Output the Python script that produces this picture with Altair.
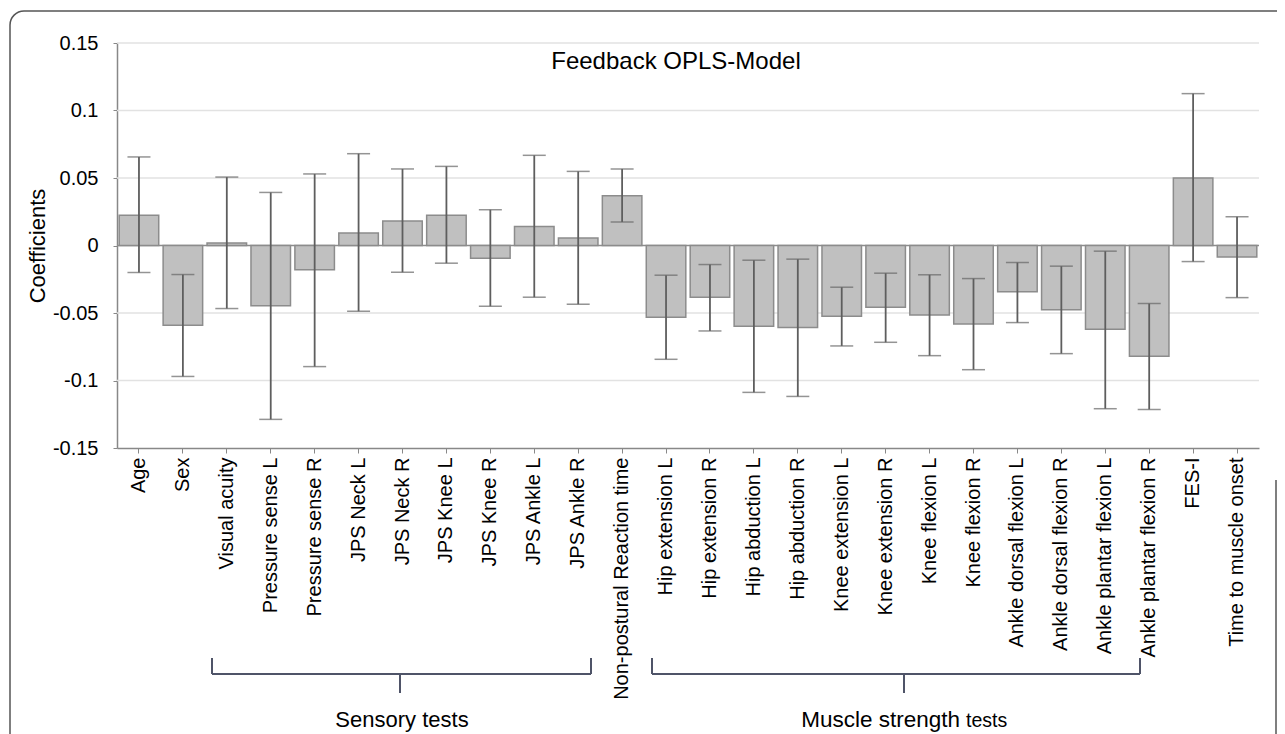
import altair as alt
import pandas as pd

categories = ["Age", "Sex", "Visual acuity", "Pressure sense L", "Pressure sense R",
              "JPS Neck L", "JPS Neck R", "JPS Knee L", "JPS Knee R", "JPS Ankle L",
              "JPS Ankle R", "Non-postural Reaction time", "Hip extension L",
              "Hip extension R", "Hip abduction L", "Hip abduction R", "Knee extension L",
              "Knee extension R", "Knee flexion L", "Knee flexion R",
              "Ankle dorsal flexion L", "Ankle dorsal flexion R", "Ankle plantar flexion L",
              "Ankle plantar flexion R", "FES-I", "Time to muscle onset"]
coef = [0.0225, -0.059, 0.0018, -0.0447, -0.018, 0.0092, 0.0181, 0.0225, -0.0094, 0.0141,
        0.0055, 0.0369, -0.0531, -0.0383, -0.0598, -0.0608, -0.0524, -0.0457, -0.0514,
        -0.0581, -0.0343, -0.0475, -0.062, -0.082, 0.050, -0.0086]
err_low = [-0.020, -0.097, -0.0467, -0.1288, -0.0897, -0.0487, -0.0198, -0.0131, -0.045,
           -0.0383, -0.0435, 0.0174, -0.0843, -0.0633, -0.1088, -0.1118, -0.0744, -0.0717,
           -0.0816, -0.092, -0.0571, -0.0801, -0.1209, -0.1214, -0.0119, -0.0386]
err_high = [0.0656, -0.0215, 0.0507, 0.0393, 0.053, 0.068, 0.0567, 0.0586, 0.0265, 0.0668,
            0.0549, 0.0567, -0.022, -0.0141, -0.0109, -0.0101, -0.0309, -0.0205, -0.0217,
            -0.0245, -0.0126, -0.0153, -0.0042, -0.043, 0.1125, 0.0213]
y_ticks = [0.15, 0.125, 0.1, 0.075, 0.05, 0.025, 0.0, -0.025, -0.05, -0.075, -0.1, -0.125, -0.15]
grid_values = [0.15, 0.1, 0.05, -0.05, -0.1]
chart_title = "Feedback OPLS-Model"
group_sensory = "Sensory tests"
group_muscle_main = "Muscle strength"
group_muscle_tail = "tests"

FONT = "Liberation Sans"
W, H = 1142, 405

df = pd.DataFrame({"cat": categories, "coef": coef, "lo": err_low, "hi": err_high})
grid_df = pd.DataFrame({"g": grid_values})
one = pd.DataFrame({"k": [0]})

x_enc = alt.X("cat:N", sort=categories,
              scale=alt.Scale(domain=categories, paddingInner=0.1, paddingOuter=0.05),
              axis=alt.Axis(title=None, labelAngle=-90, labelFontSize=20, labelColor="black",
                            labelLimit=400, tickSize=5, tickColor="#888888",
                            domainColor="#888888", domainWidth=1.5, labelPadding=4,
                            grid=False))
y_scale = alt.Scale(domain=[-0.15, 0.15], nice=False, zero=False)
y_axis = alt.Axis(values=y_ticks, grid=False, tickSize=4, tickColor="#888888",
                  domainColor="#888888", domainWidth=1.5, labelFontSize=20,
                  labelColor="black", labelPadding=15,
                  labelExpr="round(datum.value*1000) % 50 == 0 ? '' + round(datum.value*100)/100 : ''",
                  title="Coefficients", titleFontSize=22, titleFontWeight="normal",
                  titleColor="black", titlePadding=3)

grid = alt.Chart(grid_df).mark_rule(color="#e2e2e2", strokeWidth=1.5).encode(
    y=alt.Y("g:Q", scale=y_scale, axis=y_axis))

bars = alt.Chart(df).mark_bar(color="#c0c0c0", stroke="#8c8c8c", strokeWidth=1.5).encode(
    x=x_enc,
    y=alt.Y("coef:Q", scale=y_scale, axis=y_axis),
    y2=alt.datum(0))

zero = alt.Chart(one).mark_rule(color="#8c8c8c", strokeWidth=1.5).encode(
    y=alt.datum(0))

err = alt.Chart(df).mark_rule(color="#5e5e5e", strokeWidth=1.8).encode(
    x=alt.X("cat:N", sort=categories), y=alt.Y("lo:Q"), y2="hi:Q")
cap_lo = alt.Chart(df).mark_tick(color="#666666", thickness=1.5, size=23).encode(
    x=alt.X("cat:N", sort=categories), y=alt.Y("lo:Q"))
cap_hi = alt.Chart(df).mark_tick(color="#666666", thickness=1.5, size=23).encode(
    x=alt.X("cat:N", sort=categories), y=alt.Y("hi:Q"))

title_txt = alt.Chart(one).mark_text(fontSize=24, font=FONT, color="black",
                                     align="center", baseline="middle").encode(
    x=alt.value(559), y=alt.value(19), text=alt.value(chart_title))

BR = "#4f5468"
layers = [grid, zero, bars, err, cap_lo, cap_hi, title_txt]

# group brackets below the axis labels (annotation geometry)
bracket_specs = [(95, 474, 283), (535, 1023, 787)]
for x0, x1, xs in bracket_specs:
    layers.append(alt.Chart(one).mark_rule(color=BR, strokeWidth=2).encode(
        x=alt.value(x0), x2=alt.value(x1), y=alt.value(631)))
    layers.append(alt.Chart(one).mark_rule(color=BR, strokeWidth=2).encode(
        x=alt.value(x0), y=alt.value(615), y2=alt.value(631)))
    layers.append(alt.Chart(one).mark_rule(color=BR, strokeWidth=2).encode(
        x=alt.value(x1), y=alt.value(615), y2=alt.value(631)))
    layers.append(alt.Chart(one).mark_rule(color=BR, strokeWidth=2).encode(
        x=alt.value(xs), y=alt.value(631), y2=alt.value(650)))

layers.append(alt.Chart(one).mark_text(fontSize=22, font=FONT, color="black",
                                       align="center", baseline="alphabetic").encode(
    x=alt.value(285), y=alt.value(684), text=alt.value(group_sensory)))
layers.append(alt.Chart(one).mark_text(fontSize=22.5, font=FONT, color="black",
                                       align="right", baseline="alphabetic").encode(
    x=alt.value(843), y=alt.value(684), text=alt.value(group_muscle_main)))
layers.append(alt.Chart(one).mark_text(fontSize=19.5, font=FONT, color="black",
                                       align="left", baseline="alphabetic").encode(
    x=alt.value(849), y=alt.value(684), text=alt.value(group_muscle_tail)))

# outer frame
layers.append(alt.Chart(one).mark_rect(fillOpacity=0, stroke="#555555", strokeWidth=1.5,
                                       cornerRadius=14).encode(
    x=alt.value(-107), x2=alt.value(1200), y=alt.value(-32), y2=alt.value(740)))
layers.append(alt.Chart(one).mark_rule(color="#555555", strokeWidth=1.5).encode(
    x=alt.value(1159), y=alt.value(437), y2=alt.value(740)))

chart = alt.layer(*layers).properties(
    width=W, height=H,
    autosize=alt.AutoSizeParams(type="none"),
    padding={"left": 109, "top": 35, "right": 18, "bottom": 286},
).configure_axis(labelFont=FONT, titleFont=FONT).configure_text(font=FONT).configure_view(stroke=None)

chart.save("out.html", embed_options={"renderer": "svg", "actions": False})
